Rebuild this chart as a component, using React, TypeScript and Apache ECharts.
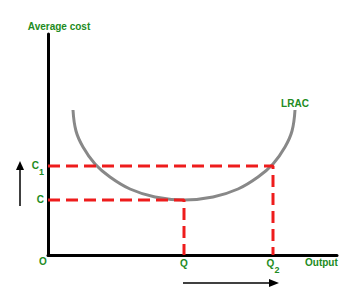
import React, { useEffect, useRef } from 'react';
import * as echarts from 'echarts';

// Axis extents (output along x, average cost along y)
const outputRange = [0, 289];
const costRange = [0, 221];

// Long-run average cost curve: [output, cost]
const lracCurve: [number, number][] = [
  [25, 145], [28, 124], [35, 108], [47, 91], [62, 78], [82, 66], [107, 58],
  [136, 55], [165, 58], [190, 66], [210, 78], [225, 91], [237, 108], [244, 124], [247, 145],
];

// Key levels
const outputLevels = [136, 225]; // Q, Q2
const costLevels = [55, 89]; // C, C1
const outputLabels = ['{m|Q}', '{m|Q}{s|2}'];
const costLabels = ['{m|C}', '{m|C}{s|1}'];

const GREEN = '#228b22';
const RED = '#ee1c1c';
const FONT = "'Liberation Sans', Arial, sans-serif";

const richLabel = {
  m: { fontSize: 10, fontWeight: 'bold', color: GREEN, fontFamily: FONT, padding: [0, 0, 6, 0] },
  s: { fontSize: 9, fontWeight: 'bold', color: GREEN, fontFamily: FONT, padding: [7, 0, 0, 0] },
};

export default function App() {
  const ref = useRef<HTMLDivElement>(null);
  useEffect(() => {
    if (!ref.current) return;
    const chart = echarts.init(ref.current, undefined, { renderer: 'svg' });
    const [Q, Q2] = outputLevels;
    const [C, C1] = costLevels;
    chart.setOption({
      animation: false,
      grid: { left: 48, right: 13, top: 34, bottom: 51, containLabel: false },
      xAxis: {
        type: 'value',
        min: outputRange[0],
        max: outputRange[1],
        name: 'Output',
        nameLocation: 'end',
        nameGap: -32,
        nameTextStyle: { color: GREEN, fontWeight: 'bold', fontSize: 10, fontFamily: FONT, verticalAlign: 'top', padding: [2, 0, 0, 0] },
        axisLine: { show: true, onZero: false, lineStyle: { color: '#000', width: 3 } },
        axisTick: { show: false },
        splitLine: { show: false },
        axisLabel: {
          show: true,
          customValues: outputLevels,
          margin: 3,
          formatter: (v: number) => outputLabels[outputLevels.indexOf(v)] ?? '',
          rich: richLabel,
        },
      },
      yAxis: {
        type: 'value',
        min: costRange[0],
        max: costRange[1],
        name: 'Average cost',
        nameLocation: 'end',
        nameGap: 3,
        nameTextStyle: { color: GREEN, fontWeight: 'bold', fontSize: 10, fontFamily: FONT, align: 'center', padding: [0, 0, 0, 22] },
        axisLine: { show: true, onZero: false, lineStyle: { color: '#000', width: 3 } },
        axisTick: { show: false },
        splitLine: { show: false },
        axisLabel: {
          show: true,
          customValues: costLevels,
          margin: 4,
          padding: [5, 0, 0, 0],
          formatter: (v: number) => costLabels[costLevels.indexOf(v)] ?? '',
          rich: richLabel,
        },
      },
      series: [
        {
          type: 'line',
          name: 'LRAC',
          data: lracCurve,
          smooth: 0.4,
          symbol: 'none',
          lineStyle: { color: '#888888', width: 3 },
          endLabel: {
            show: true,
            formatter: 'LRAC',
            color: GREEN,
            fontWeight: 'bold',
            fontSize: 10,
            fontFamily: FONT,
            align: 'center',
            verticalAlign: 'bottom',
            distance: 0,
            offset: [0, -2],
          },
          z: 2,
        },
        {
          type: 'line',
          data: [[0, C], [Q, C], [Q, 0]],
          symbol: 'none',
          lineStyle: { color: RED, width: 3, type: [12, 6] },
          z: 3,
        },
        {
          type: 'line',
          data: [[0, C1], [Q2, C1], [Q2, 0]],
          symbol: 'none',
          lineStyle: { color: RED, width: 3, type: [12, 6] },
          z: 3,
        },
      ],
    });

    const px = (x: number, y: number) => chart.convertToPixel({ gridIndex: 0 }, [x, y]) as number[];
    const [ox, oy] = px(0, 0);
    const [qx] = px(Q, 0);
    const [q2x] = px(Q2, 0);
    const [, cy] = px(0, C);
    const [, c1y] = px(0, C1);
    const vx = ox - 28;
    const vTip = c1y - 5;
    const hy = oy + 28;
    const hTip = q2x + 6;
    chart.setOption({
      graphic: [
        {
          type: 'text', left: ox - 9, top: oy + 1,
          style: { text: 'O', fill: GREEN, font: `bold 10px ${FONT}` },
        },
        { type: 'line', shape: { x1: vx, y1: cy + 6, x2: vx, y2: vTip + 8 }, style: { stroke: '#000', lineWidth: 1.5 } },
        { type: 'polygon', shape: { points: [[vx, vTip], [vx - 4, vTip + 9], [vx + 4, vTip + 9]] }, style: { fill: '#000' } },
        { type: 'line', shape: { x1: qx - 1, y1: hy, x2: hTip - 8, y2: hy }, style: { stroke: '#000', lineWidth: 1.5 } },
        { type: 'polygon', shape: { points: [[hTip, hy], [hTip - 10, hy - 4], [hTip - 10, hy + 4]] }, style: { fill: '#000' } },
      ],
    });
    return () => chart.dispose();
  }, []);
  return <div ref={ref} style={{ width: 350, height: 306, position: 'absolute', left: 0, top: 0 }} />;
}
